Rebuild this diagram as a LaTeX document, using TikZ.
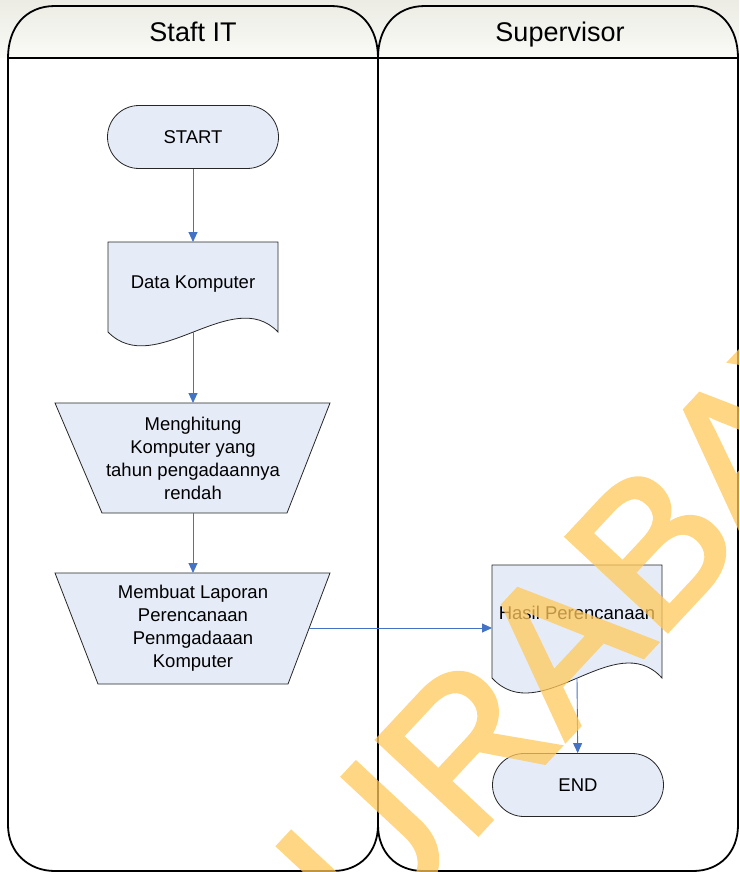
\documentclass[tikz,border=0pt]{standalone}
\usepackage{fontspec}
\setmainfont{Liberation Sans}
\usetikzlibrary{shapes.misc,arrows.meta}

\definecolor{shapefill}{RGB}{230,236,247}
\definecolor{flowblue}{RGB}{68,114,196}
\definecolor{hdrtop}{RGB}{236,236,228}
\definecolor{hdrbot}{RGB}{250,250,247}
\definecolor{wmyellow}{RGB}{255,200,90}

% heavier glyphs: fill and stroke the outline
\newcommand{\heavytext}[1]{\special{pdf:literal direct 2 Tr 4.5 w}#1\special{pdf:literal direct 0 Tr}}

\begin{document}
\begin{tikzpicture}[x=1pt,y=-1pt,
  lane/.style={draw=black,line width=1.8pt},
  hdrtext/.style={font=\fontsize{27}{30}\selectfont, inner sep=0pt, anchor=base},
  terminal/.style={rounded rectangle, draw=black!85, line width=0.8pt,
    fill=shapefill, minimum width=171pt, minimum height=63pt, inner sep=0pt,
    font=\fontsize{18.5}{23}\selectfont},
  boxshape/.style={draw=black!85, line width=0.8pt, fill=shapefill},
  txt/.style={font=\fontsize{18.5}{23}\selectfont, inner sep=0pt, align=center},
  flow/.style={draw=flowblue, line width=0.9pt,
    -{Triangle[length=10pt,width=9pt]}}
]
\useasboundingbox (0,0) rectangle (739,872);

% header band
\shade[top color=hdrtop, bottom color=hdrbot] (0,0) rectangle (739,58);

% swimlanes
\path[lane] (8,58) .. controls (8,28) and (25,6) .. (55,6) -- (331,6)
  .. controls (361,6) and (378,28) .. (378,58) -- (378,825)
  .. controls (378,852) and (360,871) .. (333,871) -- (55,871)
  .. controls (28,871) and (8,852) .. (8,825) -- cycle;
\path[lane] (378,58) .. controls (378,28) and (395,6) .. (425,6) -- (691,6)
  .. controls (721,6) and (738,28) .. (738,58) -- (738,825)
  .. controls (738,852) and (720,871) .. (693,871) -- (423,871)
  .. controls (396,871) and (378,852) .. (378,825) -- cycle;
\draw[line width=1.8pt] (8,58) -- (738,58);

\node[hdrtext] (lane1) at (193,42) {Staft IT};
\node[hdrtext] (lane2) at (560,42) {Supervisor};

% Staft IT lane
\node[terminal] (start) at (193,137) {START};

\path[boxshape] (108,242) -- (278,242) -- (278,332)
  .. controls (232,284) and (155,380) .. (108,332) -- cycle;
\node[txt, anchor=base] (data) at (193,288) {Data Komputer};
\coordinate (data-in) at (193,242);
\coordinate (data-out) at (193,332);

\path[boxshape] (55,403) -- (330,403) -- (287,513) -- (102,513) -- cycle;
\node[txt] (count) at (193,458)
  {Menghitung\\Komputer yang\\tahun pengadaannya\\rendah};
\coordinate (count-in) at (193,403);
\coordinate (count-out) at (193,513);

\path[boxshape] (55,573) -- (330,573) -- (288,684) -- (98,684) -- cycle;
\node[txt] (report) at (193,628)
  {Membuat Laporan\\Perencanaan\\Penmgadaaan\\Komputer};
\coordinate (report-in) at (193,573);
\coordinate (report-out) at (309,628);

% Supervisor lane
\path[boxshape] (492,565) -- (662,565) -- (662,678)
  .. controls (615,626) and (540,730) .. (492,678) -- cycle;
\node[txt] (result) at (577,613) {Hasil Perencanaan};
\coordinate (result-in) at (492,628);
\coordinate (result-out) at (577,678);

\node[terminal] (end) at (578,785) {END};

% flow
\draw[flow] (start) -- (data-in);
\draw[flow] (data-out) -- (count-in);
\draw[flow] (count-out) -- (report-in);
\draw[flow] (report-out) -- (result-in);
\draw[flow] (result-out) -- (end);

% watermark
\begin{scope}[transparency group, opacity=0.75]
\clip (0,0) rectangle (739,872);
\node[rotate=47, anchor=base west, text=wmyellow,
  font=\fontsize{200}{200}\selectfont, inner sep=0pt]
  (mark) at (277.5,1049) {\heavytext{SURABAYA}};
\end{scope}
\end{tikzpicture}
\end{document}
